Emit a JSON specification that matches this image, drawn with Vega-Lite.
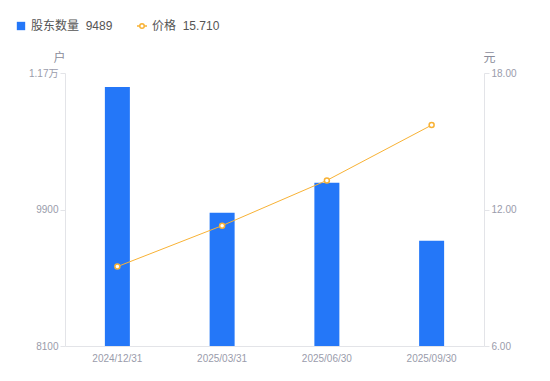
{
  "$schema": "https://vega.github.io/schema/vega-lite/v6.json",
  "width": 419,
  "height": 273,
  "autosize": {"type": "none"},
  "padding": {"left": 65, "top": 73, "right": 66, "bottom": 35},
  "background": "white",
  "config": {
    "font": "Liberation Sans, Noto Sans CJK SC",
    "view": {"stroke": null},
    "axis": {
      "labelColor": "#9A9CAB",
      "labelFontSize": 10,
      "titleColor": "#8A8C9A",
      "titleFontSize": 12,
      "titleFontWeight": "normal",
      "domainColor": "#E3E4E8",
      "tickColor": "#E3E4E8",
      "grid": false
    }
  },
  "data": {
    "values": [
      {"date": "2024/12/31", "holders": 11515, "price": 9.49},
      {"date": "2025/03/31", "holders": 9858, "price": 11.29},
      {"date": "2025/06/30", "holders": 10253, "price": 13.28},
      {"date": "2025/09/30", "holders": 9489, "price": 15.71}
    ]
  },
  "encoding": {
    "x": {
      "field": "date",
      "type": "ordinal",
      "scale": {"paddingInner": 0, "paddingOuter": 0},
      "axis": {"title": null, "labelAngle": 0, "ticks": false, "labelPadding": 7}
    }
  },
  "layer": [
    {
      "mark": {"type": "bar", "size": 25, "color": "#2477F8", "clip": true},
      "encoding": {
        "y": {
          "field": "holders",
          "type": "quantitative",
          "scale": {"domain": [8100, 11700], "nice": false, "zero": false},
          "axis": {
            "values": [8100, 9900, 11700],
            "labelExpr": "datum.value >= 10000 ? format(datum.value / 10000, '.2f') + '万' : datum.value",
            "title": "户",
            "titleAngle": 0,
            "titleX": -6,
            "titleY": -9,
            "titleAlign": "center",
            "tickSize": 5,
            "labelPadding": 2
          }
        },
        "color": {
          "datum": "股东数量",
          "scale": {"range": ["#2477F8"]},
          "legend": {
            "orient": "none",
            "legendX": -50,
            "legendY": -53,
            "title": null,
            "symbolType": "square",
            "symbolSize": 70,
            "symbolStrokeWidth": 0,
            "labelFontSize": 12,
            "labelColor": "#555",
            "labelExpr": "'股东数量\u00a0\u00a09489'"
          }
        }
      }
    },
    {
      "encoding": {
        "y": {
          "field": "price",
          "type": "quantitative",
          "scale": {"domain": [6, 18], "nice": false, "zero": false},
          "axis": {
            "orient": "right",
            "values": [6, 12, 18],
            "format": ".2f",
            "title": "元",
            "titleAngle": 0,
            "titleX": 5,
            "titleY": -9,
            "titleAlign": "center",
            "tickSize": 5,
            "labelPadding": 2
          }
        },
        "stroke": {
          "datum": "价格",
          "scale": {"range": ["#F8B235"]},
          "legend": {
            "orient": "none",
            "legendX": 71,
            "legendY": -53,
            "title": null,
            "symbolType": "M-1,0L-0.45,0M0.45,0L1,0M-0.45,0A0.45,0.45,0,1,0,0.45,0A0.45,0.45,0,1,0,-0.45,0Z",
            "symbolFillColor": "white",
            "symbolStrokeWidth": 1.5,
            "symbolSize": 100,
            "labelFontSize": 12,
            "labelColor": "#555",
            "labelExpr": "'价格\u00a0\u00a015.710'"
          }
        }
      },
      "layer": [
        {"mark": {"type": "line", "strokeWidth": 1}},
        {"mark": {"type": "point", "filled": false, "fill": "white", "fillOpacity": 1, "strokeWidth": 1.5, "size": 25, "opacity": 1}}
      ]
    }
  ],
  "resolve": {"scale": {"y": "independent"}}
}
